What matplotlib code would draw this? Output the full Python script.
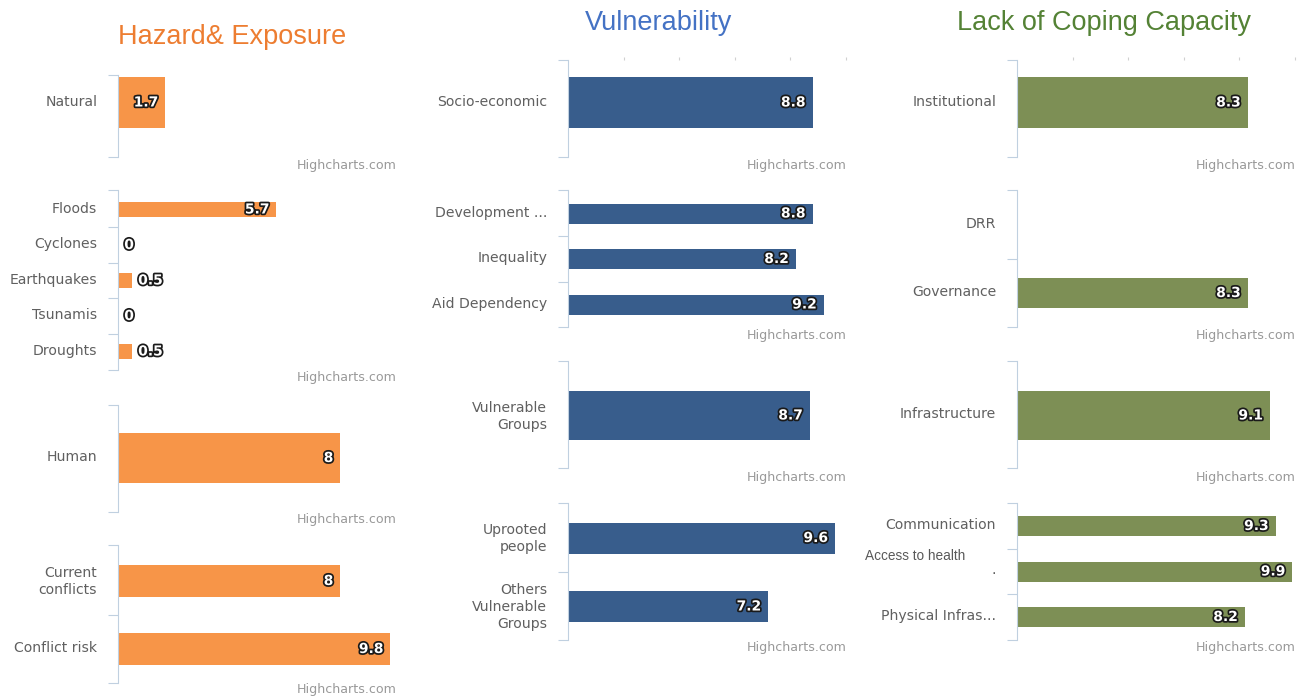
import numpy as np
import matplotlib.pyplot as plt
import matplotlib.patheffects as pe
import matplotlib.transforms as mtransforms

# Hazard & Exposure
natural_cats = ["Natural"]
natural_vals = [1.7]
natural_sub_cats = ["Floods", "Cyclones", "Earthquakes", "Tsunamis", "Droughts"]
natural_sub_vals = [5.7, 0, 0.5, 0, 0.5]
human_cats = ["Human"]
human_vals = [8]
human_sub_cats = ["Current\nconflicts", "Conflict risk"]
human_sub_vals = [8, 9.8]

# Vulnerability
socio_cats = ["Socio-economic"]
socio_vals = [8.8]
socio_sub_cats = ["Development ...", "Inequality", "Aid Dependency"]
socio_sub_vals = [8.8, 8.2, 9.2]
vgroups_cats = ["Vulnerable\nGroups"]
vgroups_vals = [8.7]
vgroups_sub_cats = ["Uprooted\npeople", "Others\nVulnerable\nGroups"]
vgroups_sub_vals = [9.6, 7.2]

# Lack of Coping Capacity
inst_cats = ["Institutional"]
inst_vals = [8.3]
inst_sub_cats = ["DRR", "Governance"]
inst_sub_vals = [np.nan, 8.3]
infra_cats = ["Infrastructure"]
infra_vals = [9.1]
infra_sub_cats = ["Communication", ".", "Physical Infras..."]
infra_sub_vals = [9.3, 9.9, 8.2]

W, H = 1299, 698
AXIS_COL = '#C0D0E0'
LABEL_COL = '#606060'

fig = plt.figure(figsize=(W / 100, H / 100), dpi=100)
lift = mtransforms.ScaledTranslation(0, 2.5 / 100, fig.dpi_scale_trans)


def px(x, y):
    return x / W, 1 - y / H


def panel(x0, color, cats, vals, top, bot, c0, s, bar_px, credit_y, top_ticks=False):
    x10 = x0 + 278
    ax = fig.add_axes([x0 / W, 1 - bot / H, (x10 - x0) / W, (bot - top) / H])
    n = len(cats)
    ypos = np.arange(n)
    ax.barh(ypos, vals, height=bar_px / s, color=color, edgecolor='none')
    ax.set_xlim(0, 10)
    ylo, yhi = (bot - c0) / s, (top - c0) / s
    ax.set_ylim(ylo, yhi)

    for sp in ['right', 'bottom', 'top']:
        ax.spines[sp].set_visible(False)
    ax.spines['left'].set_color(AXIS_COL)
    ax.spines['left'].set_linewidth(0.8)

    ax.set_yticks(ypos)
    ax.set_yticklabels(cats, fontsize=10.1, color=LABEL_COL, family='DejaVu Sans',
                       linespacing=1.3)
    ax.tick_params(axis='y', which='major', length=0, pad=15)
    for tk in ax.yaxis.get_major_ticks():
        tk.label1.set_transform(tk.label1.get_transform() + lift)
    bounds = [ylo, yhi] + [i + 0.5 for i in range(n - 1)]
    ax.set_yticks(bounds, minor=True)
    ax.tick_params(axis='y', which='minor', length=7.2, width=0.8, color=AXIS_COL)

    if top_ticks:
        ax.xaxis.set_ticks_position('top')
        ax.set_xticks([2, 4, 6, 8, 10])
        ax.tick_params(axis='x', length=2.5, width=0.8, color='#D0D0D0', labeltop=False,
                       labelbottom=False)
    else:
        ax.set_xticks([])

    for i, v in enumerate(vals):
        if np.isnan(v):
            continue
        if v >= 1:
            off, ha = -5, 'right'
        else:
            off, ha = 4.5, 'left'
        t = ax.annotate(f"{v:g}", xy=(v, i), xytext=(off, 0), textcoords='offset points',
                        ha=ha, va='center', fontsize=10, fontweight='bold', color='white')
        t.set_path_effects([pe.withStroke(linewidth=2.5, foreground='#1a1a1a')])

    fig.text(*px(x10 + 1, credit_y), "Highcharts.com", ha='right', va='center',
             fontsize=9.1, color='#999999')
    return ax


orange = '#F79548'
blue = '#385D8C'
green = '#7D8F55'

# column 1
panel(118, orange, natural_cats, natural_vals, 75, 157, 102.5, 82, 51, 166)
panel(118, orange, natural_sub_cats, natural_sub_vals, 190, 370, 209.5, 35.5, 15, 378)
panel(118, orange, human_cats, human_vals, 405, 512, 458, 107, 50, 520)
panel(118, orange, human_sub_cats, human_sub_vals, 545, 683, 581, 68, 32, 690)

# column 2
panel(568, blue, socio_cats, socio_vals, 60, 157, 102.5, 97, 51, 166, top_ticks=True)
panel(568, blue, socio_sub_cats, socio_sub_vals, 190, 327, 213.5, 45.5, 20, 336)
panel(568, blue, vgroups_cats, vgroups_vals, 361, 468, 415.5, 107, 49, 478)
panel(568, blue, vgroups_sub_cats, vgroups_sub_vals, 503, 640, 538, 68.5, 31, 648)

# column 3
panel(1017, green, inst_cats, inst_vals, 60, 157, 102.5, 97, 51, 166, top_ticks=True)
panel(1017, green, inst_sub_cats, inst_sub_vals, 190, 327, 225, 68, 30, 336)
panel(1017, green, infra_cats, infra_vals, 361, 468, 415.5, 107, 49, 478)
panel(1017, green, infra_sub_cats, infra_sub_vals, 503, 640, 526, 45.5, 20, 648)

# titles
fig.text(*px(232, 37), "Hazard& Exposure", ha='center', va='center', fontsize=19.5,
         color='#ED7D31', family='Liberation Sans')
fig.text(*px(659, 23), "Vulnerability", ha='center', va='center', fontsize=19.5,
         color='#4472C4', family='Liberation Sans')
fig.text(*px(1104, 23), "Lack of Coping Capacity", ha='center', va='center', fontsize=19.5,
         color='#548235', family='Liberation Sans')

fig.text(*px(865, 556), "Access to health", ha='left', va='center', fontsize=9.8,
         color='#595959', family='Liberation Sans')

fig.savefig('out.png', dpi=100, facecolor='white')
